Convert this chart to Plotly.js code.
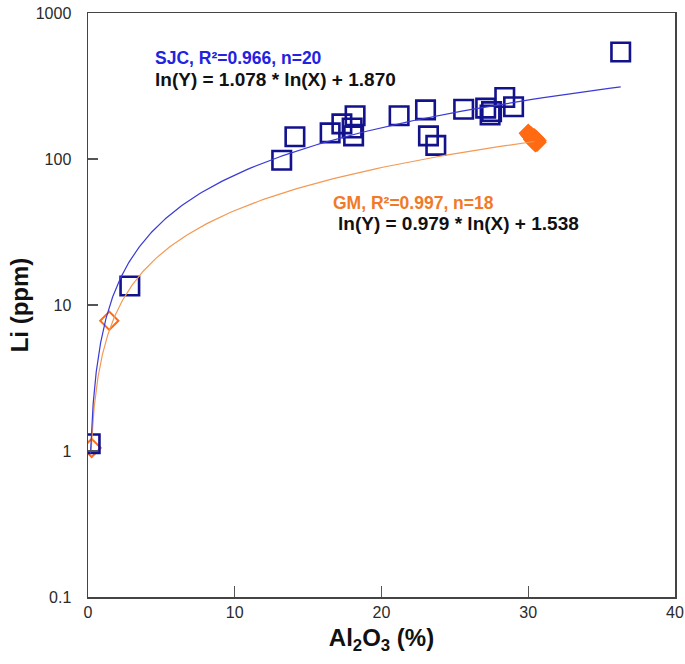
<!DOCTYPE html>
<html>
<head>
<meta charset="utf-8">
<script src="https://cdn.plot.ly/plotly-3.0.1.min.js"></script>
<style>html,body{margin:0;padding:0;background:#fff;}#chart{width:685px;height:664px;}</style>
</head>
<body>
<div id="chart"></div>
<script>
// SJC samples (open squares)
const sjcX = [0.15, 2.85, 13.2, 14.1, 16.5, 17.3, 18.0, 18.1, 18.2, 21.2, 23.0, 23.2, 23.7, 25.6, 27.1, 27.5, 27.4, 28.4, 29.0, 36.3];
const sjcY = [1.12, 13.5, 98, 142, 151, 174, 163, 144, 198, 198, 217, 144, 124, 219, 223, 211, 200, 264, 228, 540];
// GM samples: open diamonds (low) and filled diamonds (cluster)
const gmOpenX = [0.25, 1.45];
const gmOpenY = [1.05, 7.8];
const gmFillX = [30.0, 30.1, 30.2, 30.3, 30.4, 30.4, 30.5, 30.5, 30.6, 30.2, 30.3, 30.4, 30.5, 30.6, 30.35, 30.45];
const gmFillY = [150, 146, 142, 138, 135, 140, 132, 137, 130, 144, 136, 133, 129, 134, 139, 131];
// Fit equations shown on the chart: ln(Y) = a * ln(X) + b, over [xmin, xmax]
const sjcFit = [1.078, 1.870, 0.17, 36.3];
const gmFit = [0.979, 1.538, 0.21, 30.4];
const xTicks = [0, 10, 20, 30, 40];
const yTicks = [0.1, 1, 10, 100, 1000];
const yTickText = ['0.1', '1', '10', '100', '1000'];

function fitCurve(f) {
  const xs = [], ys = [];
  const n = 240;
  const l0 = Math.log(f[2]), l1 = Math.log(f[3]);
  for (let i = 0; i <= n; i++) {
    const x = Math.exp(l0 + (l1 - l0) * i / n);
    xs.push(x);
    ys.push(Math.exp(f[0] * Math.log(x) + f[1]));
  }
  return {x: xs, y: ys};
}
const sc = fitCurve(sjcFit), gc = fitCurve(gmFit);

const navy = '#12128c';
const orange = '#ff6a12';
const font = 'Liberation Sans, Arial, sans-serif';

const traces = [
  {x: gmFillX, y: gmFillY, mode: 'markers', type: 'scatter',
   marker: {symbol: 'diamond', size: 15, color: orange, line: {width: 0}}},
  {x: gmOpenX, y: gmOpenY, mode: 'markers', type: 'scatter',
   marker: {symbol: 'diamond-open', size: 14, color: orange, line: {width: 2, color: orange}}},
  {x: sjcX, y: sjcY, mode: 'markers', type: 'scatter',
   marker: {symbol: 'square-open', size: 18.5, color: navy, line: {width: 2.6, color: navy}}},
  {x: gc.x, y: gc.y, mode: 'lines', type: 'scatter', line: {color: '#f39a55', width: 1.2}},
  {x: sc.x, y: sc.y, mode: 'lines', type: 'scatter', line: {color: '#3a3ad6', width: 1.2}}
];

const L = 88, R = 675, T = 13, B = 597;
function px(x) { return (x - L) / (R - L); }
function py(y) { return (B - y) / (B - T); }

const layout = {
  width: 685, height: 664,
  margin: {l: L, r: 685 - R, t: T, b: 664 - B},
  paper_bgcolor: '#fff', plot_bgcolor: '#fff',
  showlegend: false,
  font: {family: font, color: '#222', size: 16},
  xaxis: {
    range: [0, 40], tickvals: xTicks, ticktext: xTicks.map(String),
    ticks: 'inside', ticklen: 11, tickwidth: 1.2, tickcolor: '#555',
    showline: true, linecolor: '#444', linewidth: 1.5, mirror: true,
    showgrid: false, zeroline: false,
    tickfont: {family: font, size: 16, color: '#2a2a2a'},
    title: {text: '<b>Al<sub>2</sub>O<sub>3</sub> (%)</b>', font: {family: font, size: 24, color: '#111'}, standoff: 9}
  },
  yaxis: {
    type: 'log', range: [-1, 3], tickvals: yTicks, ticktext: yTickText,
    ticks: 'inside', ticklen: 10, tickwidth: 1.2, tickcolor: '#555',
    ticklabelstandoff: 12,
    showline: true, linecolor: '#444', linewidth: 1.5, mirror: true,
    showgrid: false, zeroline: false,
    tickfont: {family: font, size: 16, color: '#2a2a2a'},
    title: {text: '<b>Li (ppm)</b>', font: {family: font, size: 24, color: '#111'}, standoff: 0}
  },
  annotations: [
    {xref: 'paper', yref: 'paper', x: px(153), y: py(58), xanchor: 'left', yanchor: 'middle', showarrow: false,
     text: '<b>SJC, R²=0.966, n=20</b>', font: {family: font, size: 17.5, color: '#2222e0'}},
    {xref: 'paper', yref: 'paper', x: px(153), y: py(80), xanchor: 'left', yanchor: 'middle', showarrow: false,
     text: '<b>ln(Y) = 1.078 * ln(X) + 1.870</b>', font: {family: font, size: 19, color: '#111'}},
    {xref: 'paper', yref: 'paper', x: px(331), y: py(203), xanchor: 'left', yanchor: 'middle', showarrow: false,
     text: '<b>GM, R²=0.997, n=18</b>', font: {family: font, size: 17.5, color: '#f07a28'}},
    {xref: 'paper', yref: 'paper', x: px(336), y: py(224), xanchor: 'left', yanchor: 'middle', showarrow: false,
     text: '<b>ln(Y) = 0.979 * ln(X) + 1.538</b>', font: {family: font, size: 19, color: '#111'}}
  ]
};

Plotly.newPlot('chart', traces, layout, {displayModeBar: false, staticPlot: true});
</script>
</body>
</html>
